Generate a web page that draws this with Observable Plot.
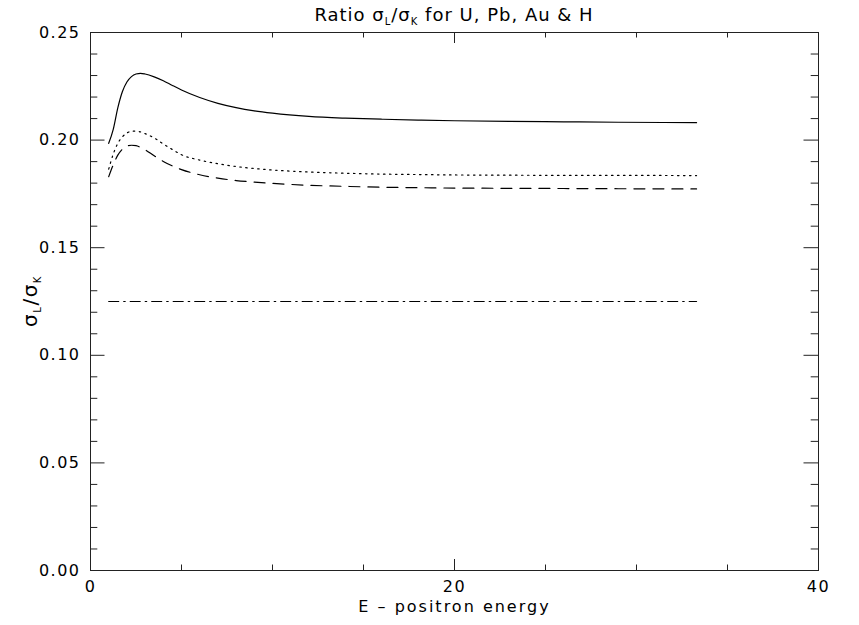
<!DOCTYPE html>
<html><head><meta charset="utf-8">
<script src="https://cdn.jsdelivr.net/npm/d3@7"></script>
<script src="https://cdn.jsdelivr.net/npm/@observablehq/plot@0.6"></script>
<style>
body{margin:0;background:#fff}
#chart svg{font-family:"DejaVu Sans",sans-serif;letter-spacing:1.5px}
</style></head><body><div id="chart"></div>
<script>
// positron energy (x)
const energy = [1, 1.25, 1.5, 1.75, 2, 2.25, 2.5, 2.75, 3, 3.5, 4, 4.5, 5, 6, 7, 8, 9, 10, 12, 14, 16, 18, 20, 23, 26, 29, 33.3];
// sigma_L / sigma_K ratios
const ratioU  = [0.1985, 0.2050, 0.2150, 0.2225, 0.2270, 0.2295, 0.2307, 0.2310, 0.2307, 0.2294, 0.2276, 0.2254, 0.2233, 0.2198, 0.2171, 0.2151, 0.2136, 0.2125, 0.2110, 0.2102, 0.2097, 0.2093, 0.2090, 0.2087, 0.2085, 0.2083, 0.2081];
const ratioPb = [0.1865, 0.1935, 0.1985, 0.2015, 0.2033, 0.2041, 0.2042, 0.2038, 0.2030, 0.2010, 0.1982, 0.1956, 0.1932, 0.1907, 0.1890, 0.1877, 0.1868, 0.1861, 0.1852, 0.1846, 0.1842, 0.1840, 0.1838, 0.1837, 0.1836, 0.1836, 0.1835];
const ratioAu = [0.1830, 0.1885, 0.1930, 0.1958, 0.1972, 0.1976, 0.1974, 0.1966, 0.1955, 0.1927, 0.1901, 0.1880, 0.1863, 0.1839, 0.1823, 0.1812, 0.1805, 0.1799, 0.1790, 0.1785, 0.1781, 0.1779, 0.1777, 0.1776, 0.1775, 0.1774, 0.1773];
const ratioH  = [0.125, 0.125, 0.125, 0.125, 0.125, 0.125, 0.125, 0.125, 0.125, 0.125, 0.125, 0.125, 0.125, 0.125, 0.125, 0.125, 0.125, 0.125, 0.125, 0.125, 0.125, 0.125, 0.125, 0.125, 0.125, 0.125, 0.125];
const seriesNames = ["U", "Pb", "Au", "H"];
const xMajorTicks = [0, 20, 40];
const xMinorTicks = [5, 10, 15, 25, 30, 35];
const yMajorTicks = [0, 0.05, 0.10, 0.15, 0.20, 0.25];
const yMinorTicks = [0.01, 0.02, 0.03, 0.04, 0.06, 0.07, 0.08, 0.09, 0.11, 0.12, 0.13, 0.14, 0.16, 0.17, 0.18, 0.19, 0.21, 0.22, 0.23, 0.24];

const W = 859, H = 625;
const mL = 90, mR = 41, mT = 32, mB = 55;
const pw = W - mL - mR, ph = H - mT - mB;

const allSeries = [ratioU, ratioPb, ratioAu, ratioH];
const dashes = [null, "1.5,4.5", "11,8", "10,5,1.5,5"];
const rows = s => energy.map((e, i) => ({E: e, r: allSeries[s][i], name: seriesNames[s]}));

const marks = [];
allSeries.forEach((_, s) => {
  marks.push(Plot.line(rows(s), {x: "E", y: "r", stroke: "#000", strokeWidth: 1.2, curve: "monotone-x", strokeDasharray: dashes[s]}));
});
marks.push(
  Plot.frame({stroke: "#222", strokeWidth: 1}),
  Plot.tickX(xMajorTicks, {x: d => d, insetTop: ph - 11, stroke: "#222"}),
  Plot.tickX(xMajorTicks, {x: d => d, insetBottom: ph - 11, stroke: "#222"}),
  Plot.tickX(xMinorTicks, {x: d => d, insetTop: ph - 5.5, stroke: "#222"}),
  Plot.tickX(xMinorTicks, {x: d => d, insetBottom: ph - 5.5, stroke: "#222"}),
  Plot.tickY(yMajorTicks, {y: d => d, insetRight: pw - 14.5, stroke: "#222"}),
  Plot.tickY(yMajorTicks, {y: d => d, insetLeft: pw - 14.5, stroke: "#222"}),
  Plot.tickY(yMinorTicks, {y: d => d, insetRight: pw - 7.3, stroke: "#222"}),
  Plot.tickY(yMinorTicks, {y: d => d, insetLeft: pw - 7.3, stroke: "#222"}),
  Plot.axisX({ticks: xMajorTicks, tickSize: 0, tickPadding: 10, label: null, tickFormat: d3.format("d"), fontSize: 16}),
  Plot.axisY({ticks: yMajorTicks, tickSize: 0, tickPadding: 10, label: null, tickFormat: d3.format(".2f"), fontSize: 16}),
  Plot.text(["E – positron energy"], {frameAnchor: "bottom", dy: 41, fontSize: 16, fill: "#000"})
);

const chart = Plot.plot({
  width: W, height: H,
  marginLeft: mL, marginRight: mR, marginTop: mT, marginBottom: mB,
  x: {domain: [0, 40]},
  y: {domain: [0, 0.25]},
  style: {fontFamily: "DejaVu Sans, sans-serif", fontSize: "16px", color: "#000", background: "#fff"},
  marks
});

const svg = d3.select(chart);
svg.selectAll("text").filter(function() { return this.textContent.startsWith("E –"); }).style("letter-spacing", "2px");
const title = svg.append("text")
  .attr("x", mL + pw / 2).attr("y", mT - 11)
  .attr("text-anchor", "middle").attr("font-size", 18).attr("fill", "#000")
  .style("letter-spacing", "1px");
title.append("tspan").text("Ratio σ");
title.append("tspan").attr("dy", 4).attr("font-size", 10).text("L");
title.append("tspan").attr("dy", -4).text("/σ");
title.append("tspan").attr("dy", 4).attr("font-size", 10).text("K");
title.append("tspan").attr("dy", -4).text(" for U, Pb, Au & H");

const ylab = svg.append("text")
  .attr("transform", `translate(${mL - 53},${mT + ph / 2}) rotate(-90)`)
  .attr("text-anchor", "middle").attr("font-size", 20).attr("fill", "#000");
ylab.append("tspan").text("σ");
ylab.append("tspan").attr("dy", 4).attr("font-size", 10).text("L");
ylab.append("tspan").attr("dy", -4).text("/σ");
ylab.append("tspan").attr("dy", 4).attr("font-size", 10).text("K");

document.getElementById("chart").appendChild(chart);
</script></body></html>
